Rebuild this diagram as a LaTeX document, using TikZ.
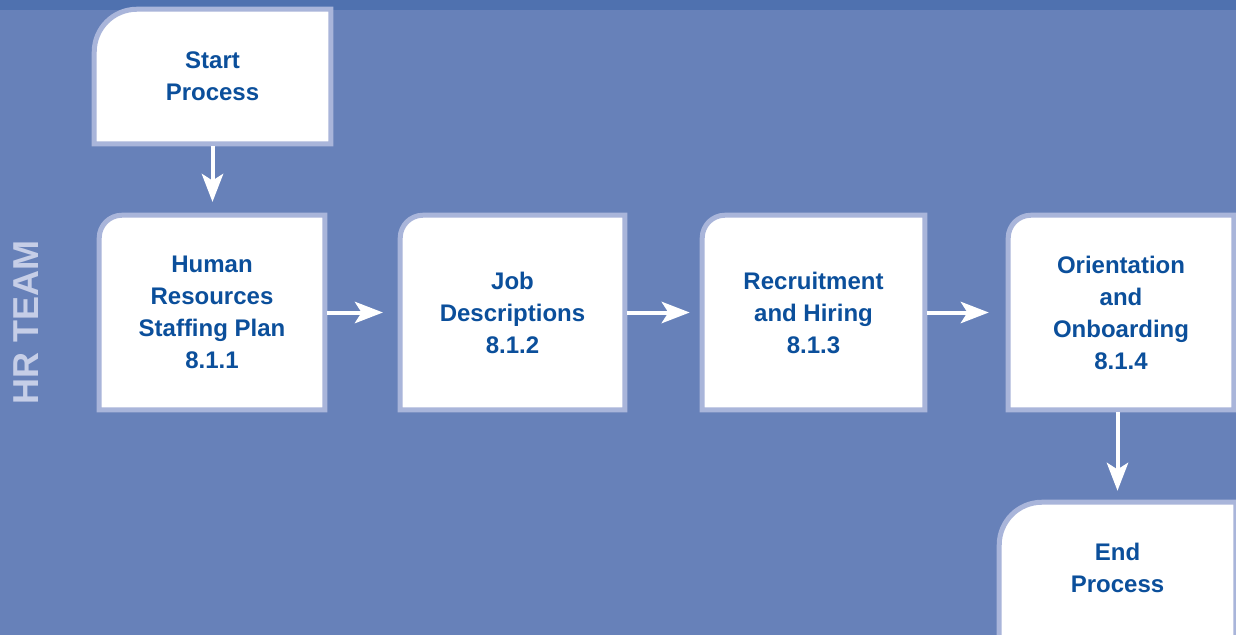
\documentclass[tikz,border=0pt]{standalone}
\usepackage{fontspec}
\setmainfont{Liberation Sans}
\usetikzlibrary{arrows.meta}
\definecolor{bgblue}{HTML}{6781B9}
\definecolor{bandblue}{HTML}{4F71AF}
\definecolor{frameblue}{HTML}{A9B5DA}
\definecolor{textblue}{HTML}{0B4F9B}
\definecolor{lanetext}{HTML}{C6CEE7}
\pgfdeclarelayer{bottom}
\pgfdeclarelayer{frames}
\pgfsetlayers{bottom,frames,main}
\tikzset{
  stepbox/.style={minimum width=#1*0.75pt, inner sep=0pt, align=center,
    font=\fontsize{18pt}{24pt}\selectfont\bfseries, text=textblue},
  frame/.style={draw=frameblue, fill=white, line width=3.75pt},
  flow/.style={draw=white, line width=3pt,
    -{Stealth[length=21pt, width=16pt, inset=5pt]}},
}
\newcommand\stepframe[2]{%
  \draw[frame] (#1.south west) -- ([yshift=-#2]#1.north west)
    arc[start angle=180, end angle=90, radius=#2] -- (#1.north east)
    -- (#1.south east) -- cycle;}
\begin{document}
\begin{tikzpicture}[x=0.75pt, y=0.75pt]
\useasboundingbox (0,0) rectangle (1236,-635);
\clip (0,0) rectangle (1236,-635);
\begin{pgfonlayer}{bottom}
\fill[bgblue] (0,0) rectangle (1236,-635);
\fill[bandblue] (0,0) rectangle (1236,-10.5);
\end{pgfonlayer}

\node[rotate=90, font=\fontsize{27pt}{27pt}\selectfont\bfseries, text=lanetext]
  (lane) at (26,-322.5) {HR TEAM};

\node[stepbox=236, minimum height=134*0.75pt] (start) at (212.5,-76.5) {Start\\Process};
\node[stepbox=225, minimum height=194*0.75pt] (b1) at (212,-312.5) {Human\\Resources\\Staffing Plan\\8.1.1};
\node[stepbox=224, minimum height=194*0.75pt] (b2) at (512.5,-312.5) {Job\\Descriptions\\8.1.2};
\node[stepbox=222, minimum height=194*0.75pt] (b3) at (813.5,-312.5) {Recruitment\\and Hiring\\8.1.3};
\node[stepbox=225, minimum height=194*0.75pt] (b4) at (1121,-312.5) {Orientation\\and\\Onboarding\\8.1.4};
\node[stepbox=236, minimum height=130*0.75pt] (finish) at (1117.5,-567.5) {End\\Process};

\begin{pgfonlayer}{frames}
\stepframe{start}{32pt}
\stepframe{b1}{17pt}
\stepframe{b2}{17pt}
\stepframe{b3}{17pt}
\stepframe{b4}{17pt}
\draw[frame] ([yshift=-20pt]finish.south west) -- ([yshift=-32pt]finish.north west)
    arc[start angle=180, end angle=90, radius=32pt] -- (finish.north east)
    -- ([yshift=-20pt]finish.south east) -- cycle;
\end{pgfonlayer}

\draw[flow, shorten <=1.9pt, shorten >=10pt] (start.south) -- (start.south |- b1.north);
\draw[flow, shorten <=1.9pt, shorten >=13pt] (b1.east) -- (b2.west);
\draw[flow, shorten <=1.9pt, shorten >=9.4pt] (b2.east) -- (b3.west);
\draw[flow, shorten <=1.9pt, shorten >=14.6pt] (b3.east) -- (b4.west);
\draw[flow, shorten <=1.9pt, shorten >=8.6pt] (finish.north |- b4.south) -- (finish.north);
\end{tikzpicture}
\end{document}
